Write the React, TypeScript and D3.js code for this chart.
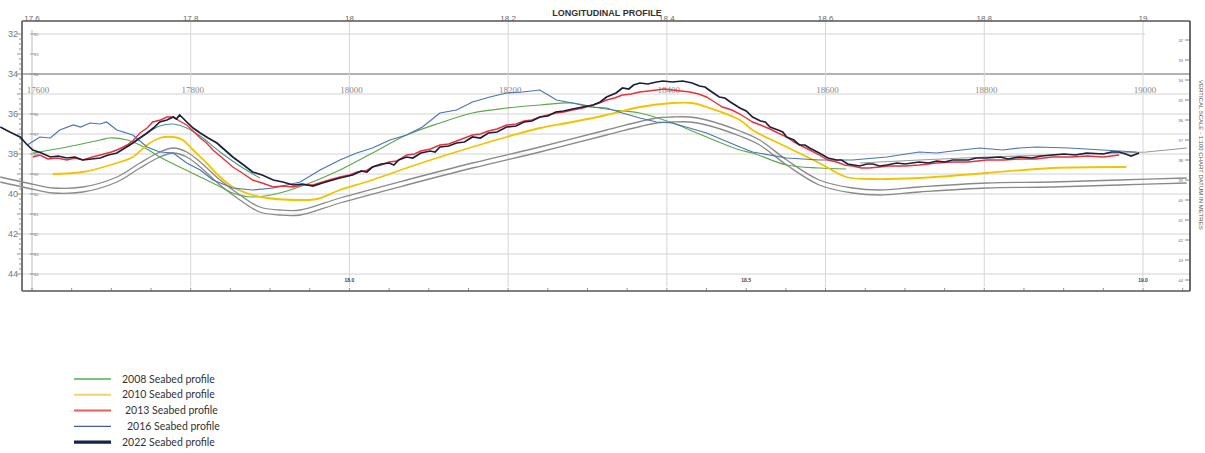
import React from 'react';
import * as d3 from 'd3';

type Pt = [number, number];

// axis labels
const topTickValues = [17.6, 17.8, 18.0, 18.2, 18.4, 18.6, 18.8, 19.0];
const topTickLabels = ['17.6', '17.8', '18', '18.2', '18.4', '18.6', '18.8', '19'];
const chainageLabels = ['17600', '17800', '18000', '18200', '18400', '18600', '18800', '19000'];
const depthTicks = [32, 34, 36, 38, 40, 42, 44];
const gridDepths = [32, 34, 35, 36, 37, 38, 39, 40, 41, 42, 43, 44];
const innerLabelDepths = [32, 33, 34, 36, 37, 38, 39, 40, 41, 42, 43, 44];
const bottomLabelValues = [18.0, 18.5, 19.0];
const bottomLabels = ['18.0', '18.5', '19.0'];
const rightLabels = ['32', '33', '34', '35', '36', '37', '38', '39', '40', '41', '42', '43', '44'];

// legend
const legendLabels = ['2008 Seabed profile', '2010 Seabed profile', '2013 Seabed profile', '2016 Seabed profile', '2022 Seabed profile'];
const legendColors = ['#7cc47c', '#f3d36a', '#ef5a5f', '#3d5ea6', '#17224f'];
const legendWidths = [2, 2, 2, 1.2, 3.2];

// seabed profiles [km, depth m]
const profile2008: Pt[] = [
  [17.601, 37.95], [17.644, 37.65], [17.686, 37.3], [17.698, 37.2], [17.72, 37.3], [17.736, 37.55],
  [17.761, 38.15], [17.786, 38.65], [17.812, 39.15], [17.833, 39.55], [17.853, 39.95], [17.878, 40.15],
  [17.912, 39.95], [17.95, 39.45], [17.988, 38.8], [18.029, 37.95], [18.072, 37.05], [18.114, 36.45],
  [18.155, 35.95], [18.198, 35.7], [18.24, 35.55], [18.281, 35.45], [18.307, 35.65], [18.332, 35.8],
  [18.366, 35.95], [18.407, 36.45], [18.45, 37.15], [18.492, 37.8], [18.508, 37.95], [18.551, 38.55],
  [18.592, 38.7], [18.626, 38.75],
];

const profile2010: Pt[] = [
  [17.626, 39.0], [17.664, 38.9], [17.707, 38.45], [17.727, 38.15], [17.745, 37.55], [17.761, 37.2],
  [17.778, 37.15], [17.79, 37.3], [17.803, 37.8], [17.82, 38.45], [17.837, 39.15], [17.853, 39.65],
  [17.878, 40.05], [17.896, 40.2], [17.938, 40.3], [17.959, 40.25], [17.988, 39.8], [18.025, 39.35],
  [18.072, 38.7], [18.114, 38.15], [18.155, 37.65], [18.198, 37.15], [18.24, 36.7], [18.281, 36.4],
  [18.324, 36.05], [18.366, 35.65], [18.407, 35.45], [18.432, 35.45], [18.45, 35.65], [18.492, 36.3],
  [18.508, 36.8], [18.551, 37.65], [18.592, 38.45], [18.626, 39.15], [18.655, 39.25], [18.718, 39.2],
  [18.803, 38.95], [18.886, 38.7], [18.979, 38.65],
];

const profile2013: Pt[] = [
  [17.601, 38.15], [17.61, 38.05], [17.62, 38.25], [17.632, 38.2], [17.644, 38.3], [17.654, 38.2],
  [17.664, 38.3], [17.676, 38.15], [17.686, 38.05], [17.70, 37.9], [17.71, 37.75], [17.72, 37.55],
  [17.728, 37.3], [17.736, 36.95], [17.745, 36.7], [17.752, 36.4], [17.762, 36.3], [17.77, 36.15],
  [17.778, 36.15], [17.786, 36.35], [17.795, 36.55], [17.803, 36.85], [17.812, 37.2], [17.82, 37.45],
  [17.828, 37.8], [17.84, 38.2], [17.853, 38.65], [17.865, 38.95], [17.878, 39.3], [17.89, 39.45],
  [17.904, 39.65], [17.916, 39.6], [17.929, 39.65], [17.94, 39.55], [17.954, 39.55], [17.97, 39.35],
  [17.988, 39.15], [18.0, 39.05], [18.01, 38.9], [18.02, 38.85], [18.029, 38.65], [18.04, 38.55],
  [18.05, 38.4], [18.06, 38.35], [18.072, 38.05], [18.082, 38.0], [18.09, 37.85], [18.102, 37.75],
  [18.114, 37.55], [18.125, 37.5], [18.135, 37.35], [18.145, 37.2], [18.155, 37.05], [18.165, 37.0],
  [18.175, 36.85], [18.186, 36.75], [18.198, 36.55], [18.21, 36.5], [18.22, 36.35], [18.23, 36.3],
  [18.24, 36.15], [18.25, 36.05], [18.26, 35.95], [18.27, 35.9], [18.281, 35.8], [18.294, 35.7],
  [18.307, 35.55], [18.315, 35.45], [18.324, 35.3], [18.334, 35.2], [18.344, 35.05], [18.355, 35.0],
  [18.366, 34.9], [18.377, 34.85], [18.387, 34.8], [18.397, 34.75], [18.407, 34.8], [18.418, 34.85],
  [18.429, 34.9], [18.44, 35.0], [18.45, 35.15], [18.46, 35.4], [18.47, 35.65], [18.482, 35.8],
  [18.492, 36.0], [18.5, 36.2], [18.508, 36.4], [18.518, 36.55], [18.53, 36.75], [18.54, 36.95],
  [18.551, 37.15], [18.56, 37.4], [18.57, 37.6], [18.58, 37.8], [18.592, 38.05], [18.603, 38.3],
  [18.614, 38.4], [18.624, 38.55], [18.634, 38.6], [18.645, 38.7], [18.655, 38.7], [18.668, 38.65],
  [18.68, 38.6], [18.70, 38.6], [18.718, 38.55], [18.74, 38.45], [18.76, 38.4], [18.78, 38.4],
  [18.803, 38.3], [18.825, 38.3], [18.845, 38.25], [18.865, 38.25], [18.886, 38.15], [18.91, 38.15],
  [18.93, 38.1], [18.95, 38.15], [18.97, 38.05],
];

const profile2016: Pt[] = [
  [17.594, 37.55], [17.61, 37.15], [17.623, 37.2], [17.635, 36.8], [17.652, 36.55], [17.661, 36.65],
  [17.673, 36.45], [17.686, 36.5], [17.694, 36.4], [17.707, 36.8], [17.727, 37.05], [17.745, 37.65],
  [17.761, 37.9], [17.778, 37.95], [17.795, 38.45], [17.812, 38.8], [17.828, 39.3], [17.853, 39.7],
  [17.878, 39.8], [17.904, 39.7], [17.938, 39.4], [17.963, 38.8], [17.988, 38.3], [18.009, 37.95],
  [18.029, 37.7], [18.051, 37.3], [18.072, 37.05], [18.092, 36.65], [18.114, 35.95], [18.135, 35.8],
  [18.155, 35.4], [18.177, 35.15], [18.198, 34.95], [18.218, 34.9], [18.24, 34.8], [18.261, 35.3],
  [18.281, 35.45], [18.303, 35.65], [18.324, 35.7], [18.344, 35.95], [18.366, 36.2], [18.387, 36.4],
  [18.407, 36.45], [18.45, 36.95], [18.492, 37.65], [18.508, 37.9], [18.551, 38.2], [18.592, 38.3],
  [18.634, 38.3], [18.677, 38.15], [18.718, 37.9], [18.74, 37.95], [18.76, 37.85], [18.794, 37.7],
  [18.823, 37.8], [18.844, 37.7], [18.866, 37.65], [18.907, 37.7], [18.949, 37.8], [18.992, 37.9],
];

const profile2022: Pt[] = [
  [17.56, 36.65], [17.572, 36.9], [17.585, 37.15], [17.593, 37.5], [17.601, 37.8], [17.612, 37.95],
  [17.623, 38.15], [17.633, 38.1], [17.644, 38.2], [17.654, 38.15], [17.664, 38.3], [17.675, 38.25],
  [17.686, 38.2], [17.696, 38.05], [17.707, 37.95], [17.717, 37.7], [17.727, 37.45], [17.736, 37.2],
  [17.745, 36.95], [17.753, 36.7], [17.761, 36.4], [17.77, 36.3], [17.778, 36.15], [17.782, 36.25],
  [17.786, 36.05], [17.79, 36.2], [17.795, 36.4], [17.803, 36.7], [17.812, 36.95], [17.822, 37.2],
  [17.833, 37.45], [17.843, 37.8], [17.853, 38.15], [17.865, 38.5], [17.878, 38.9], [17.89, 39.05],
  [17.904, 39.3], [17.916, 39.4], [17.929, 39.55], [17.941, 39.5], [17.954, 39.6], [17.966, 39.45],
  [17.979, 39.3], [17.988, 39.2], [18.004, 39.05], [18.015, 38.85], [18.022, 38.9], [18.029, 38.65],
  [18.04, 38.5], [18.05, 38.45], [18.056, 38.55], [18.062, 38.3], [18.072, 38.15], [18.08, 38.2],
  [18.09, 37.95], [18.102, 37.85], [18.108, 37.9], [18.114, 37.65], [18.125, 37.6], [18.135, 37.45],
  [18.145, 37.4], [18.155, 37.15], [18.165, 37.2], [18.175, 36.95], [18.186, 36.9], [18.198, 36.65],
  [18.21, 36.6], [18.22, 36.4], [18.23, 36.35], [18.24, 36.15], [18.25, 36.1], [18.26, 35.9],
  [18.27, 35.85], [18.281, 35.75], [18.294, 35.65], [18.307, 35.55], [18.316, 35.4], [18.324, 35.15],
  [18.336, 34.95], [18.344, 34.7], [18.352, 34.75], [18.358, 34.55], [18.366, 34.45], [18.376, 34.5],
  [18.387, 34.4], [18.395, 34.35], [18.407, 34.4], [18.42, 34.35], [18.432, 34.45], [18.441, 34.6],
  [18.448, 34.65], [18.455, 34.85], [18.466, 35.15], [18.473, 35.2], [18.48, 35.4], [18.492, 35.7],
  [18.5, 35.85], [18.508, 36.15], [18.518, 36.35], [18.524, 36.4], [18.53, 36.65], [18.54, 36.8],
  [18.546, 36.9], [18.551, 37.15], [18.56, 37.3], [18.567, 37.55], [18.574, 37.55], [18.58, 37.7],
  [18.592, 37.95], [18.603, 38.2], [18.614, 38.3], [18.62, 38.3], [18.628, 38.5], [18.643, 38.6],
  [18.652, 38.5], [18.66, 38.5], [18.668, 38.6], [18.677, 38.55], [18.69, 38.45], [18.70, 38.5],
  [18.718, 38.4], [18.73, 38.45], [18.74, 38.35], [18.75, 38.4], [18.76, 38.3], [18.78, 38.3],
  [18.79, 38.2], [18.803, 38.2], [18.82, 38.15], [18.83, 38.25], [18.844, 38.15], [18.86, 38.2],
  [18.872, 38.1], [18.886, 38.05], [18.90, 38.0], [18.915, 38.05], [18.929, 37.95], [18.95, 38.0],
  [18.96, 37.9], [18.97, 37.9], [18.978, 38.0], [18.985, 38.1], [18.995, 37.95],
];

// unlabelled traces on the drawing
const tealTrace: Pt[] = [
  [17.72, 37.65], [17.745, 36.95], [17.761, 36.6], [17.778, 36.5], [17.795, 36.7], [17.812, 37.1],
  [17.837, 37.9], [17.862, 38.6], [17.887, 39.2],
];

const designUpper: Pt[] = [
  [17.56, 39.15], [17.594, 39.45], [17.626, 39.7], [17.664, 39.65], [17.707, 39.15], [17.736, 38.45],
  [17.761, 37.9], [17.778, 37.7], [17.795, 37.9], [17.812, 38.4], [17.837, 39.3], [17.862, 40.05],
  [17.887, 40.65], [17.912, 40.8], [17.938, 40.8], [17.988, 40.2], [18.072, 39.3], [18.155, 38.45],
  [18.24, 37.65], [18.324, 36.8], [18.387, 36.2], [18.407, 36.15], [18.429, 36.15], [18.45, 36.3],
  [18.492, 36.85], [18.517, 37.3], [18.551, 38.3], [18.592, 39.3], [18.634, 39.7], [18.668, 39.8],
  [18.718, 39.65], [18.803, 39.45], [18.886, 39.4], [18.97, 39.3], [19.055, 39.2],
];

const designLower: Pt[] = [
  [17.56, 39.4], [17.594, 39.7], [17.626, 39.95], [17.664, 39.9], [17.707, 39.4], [17.736, 38.7],
  [17.761, 38.15], [17.778, 37.95], [17.795, 38.15], [17.812, 38.65], [17.837, 39.55], [17.862, 40.3],
  [17.887, 40.9], [17.912, 41.05], [17.938, 41.05], [17.988, 40.45], [18.072, 39.55], [18.155, 38.7],
  [18.24, 37.9], [18.324, 37.05], [18.387, 36.45], [18.407, 36.4], [18.429, 36.4], [18.45, 36.55],
  [18.492, 37.1], [18.517, 37.55], [18.551, 38.55], [18.592, 39.55], [18.634, 39.95], [18.668, 40.05],
  [18.718, 39.9], [18.803, 39.7], [18.886, 39.65], [18.97, 39.55], [19.055, 39.45],
];

const surveyTrace: Pt[] = [
  [18.643, 38.45], [18.718, 38.3], [18.803, 38.15], [18.886, 38.05], [18.97, 37.95], [19.004, 37.9],
  [19.03, 37.8], [19.055, 37.7],
];

export default function App() {
  const W = 1205, H = 453;
  const left = 22, right = 1190, top = 21, bottom = 291;

  const x = d3.scaleLinear().domain([17.6, 19.0]).range([32, 1143]);
  const y = d3.scaleLinear().domain([32, 44]).range([34, 274]);

  const jagged = d3.line<Pt>().x(d => x(d[0])).y(d => y(d[1]));
  const smooth = d3.line<Pt>().x(d => x(d[0])).y(d => y(d[1])).curve(d3.curveCatmullRom.alpha(0.5));

  const minorDepth = d3.range(32, 44.001, 0.25);
  const bottomTicks = d3.range(0, 31).map(i => 17.55 + i * 0.05);

  return (
    <svg width={W} height={H} style={{ position: 'absolute', left: 0, top: 0, background: '#fff' }}>
      <rect width={W} height={H} fill="#fff" />

      {/* grid */}
      {gridDepths.map(v => (
        <line key={'g' + v} x1={v === 32 ? 33 : left} x2={v === 32 ? 1145 : right} y1={y(v)} y2={y(v)}
          stroke={v === 34 ? '#9a9a9a' : '#d2d2d2'} strokeWidth={v === 34 ? 1.6 : 1} />
      ))}
      {topTickValues.slice(1).map(v => (
        <line key={'v' + v} x1={x(v)} x2={x(v)} y1={top} y2={bottom - 4} stroke="#d6d6d6" strokeWidth={1} />
      ))}

      {/* title + top axis */}
      <text x={607} y={16} textAnchor="middle" fontFamily="Liberation Sans, Arial" fontWeight="bold"
        fontSize={9} fill="#333">LONGITUDINAL PROFILE</text>
      <line x1={left} x2={right} y1={top} y2={top} stroke="#555" strokeWidth={1.6} />
      {topTickValues.map((v, i) => (
        <text key={'t' + v} x={x(v)} y={top} textAnchor="middle" fontFamily="Liberation Sans, Arial"
          fontSize={8} fill="#666">{topTickLabels[i]}</text>
      ))}

      {/* chainage labels */}
      {topTickValues.map((v, i) => (
        <text key={'c' + v} x={x(v) + (i === 0 ? 6 : 2)} y={93} textAnchor="middle" fontFamily="Liberation Serif, serif"
          fontSize={9} fill="#8a8a8a">{chainageLabels[i]}</text>
      ))}

      {/* left axis */}
      <line x1={left} x2={left} y1={top} y2={bottom} stroke="#555" strokeWidth={1.6} />
      {minorDepth.map(v => (
        <line key={'m' + v} x1={left - (Number.isInteger(v) ? 5 : 3)} x2={left} y1={y(v)} y2={y(v)} stroke="#777" strokeWidth={0.8} />
      ))}
      {depthTicks.map(v => (
        <text key={'l' + v} x={13} y={y(v) + 3} textAnchor="middle" fontFamily="Liberation Sans, Arial"
          fontSize={9} fill="#777">{v}</text>
      ))}

      {/* inner axis */}
      <line x1={32} x2={32} y1={30} y2={bottom} stroke="#bbb" strokeWidth={1} />
      {innerLabelDepths.map(v => (
        <g key={'i' + v}>
          <line x1={30} x2={35} y1={y(v)} y2={y(v)} stroke="#888" strokeWidth={0.8} />
          <text x={34} y={y(v) + 1.5} fontFamily="Liberation Sans, Arial" fontSize={4} fill="#777">{v}</text>
        </g>
      ))}

      {/* right axis */}
      <line x1={right} x2={right} y1={top} y2={bottom} stroke="#444" strokeWidth={1.6} />
      {rightLabels.map((s, i) => (
        <g key={'r' + s}>
          <line x1={right - 5} x2={right} y1={40 + i * 20} y2={40 + i * 20} stroke="#666" strokeWidth={0.8} />
          <text x={right - 7} y={41.5 + i * 20} textAnchor="end" fontFamily="Liberation Sans, Arial" fontSize={4} fill="#666">{s}</text>
        </g>
      ))}
      <text transform={`translate(1199,80) rotate(90)`} fontFamily="Liberation Sans, Arial" fontSize={6}
        fill="#555">VERTICAL SCALE - 1:100 CHART DATUM IN METRES</text>

      {/* bottom axis */}
      <line x1={left} x2={right} y1={bottom} y2={bottom} stroke="#555" strokeWidth={1.6} />
      {bottomTicks.map(v => (
        <line key={'b' + v} x1={x(v)} x2={x(v)} y1={bottom - 3} y2={bottom + 1} stroke="#777" strokeWidth={0.8} />
      ))}
      {bottomLabelValues.map((v, i) => (
        <text key={'bl' + v} x={x(v)} y={282} textAnchor="middle" fontFamily="Liberation Sans, Arial"
          fontWeight="bold" fontSize={5} fill="#444">{bottomLabels[i]}</text>
      ))}

      {/* profiles */}
      <path d={smooth(designUpper) || ''} fill="none" stroke="#8a8a8a" strokeWidth={1.3} />
      <path d={smooth(designLower) || ''} fill="none" stroke="#8a8a8a" strokeWidth={1.3} />
      <path d={jagged(surveyTrace) || ''} fill="none" stroke="#9a9a9a" strokeWidth={1.2} />
      <path d={smooth(profile2008) || ''} fill="none" stroke="#5da84a" strokeWidth={1.2} />
      <path d={smooth(profile2010) || ''} fill="none" stroke="#f2c400" strokeWidth={1.8} />
      <path d={jagged(profile2016) || ''} fill="none" stroke="#4a74b6" strokeWidth={1.2} />
      <path d={smooth(tealTrace) || ''} fill="none" stroke="#3f9a86" strokeWidth={1.1} />
      <path d={jagged(profile2013) || ''} fill="none" stroke="#e8313c" strokeWidth={1.4} />
      <path d={jagged(profile2022) || ''} fill="none" stroke="#1b2038" strokeWidth={1.7} />

      {/* legend */}
      {legendLabels.map((s, i) => {
        const ly = 379 + i * 15.8;
        return (
          <g key={'lg' + i}>
            <line x1={74} x2={111} y1={ly} y2={ly} stroke={legendColors[i]} strokeWidth={legendWidths[i]} />
            <text x={i === 2 ? 125 : i === 3 ? 127 : 122} y={ly + 3.5} fontFamily="Lato, Liberation Sans" fontSize={10.5}
              fill="#333">{s}</text>
          </g>
        );
      })}
    </svg>
  );
}
